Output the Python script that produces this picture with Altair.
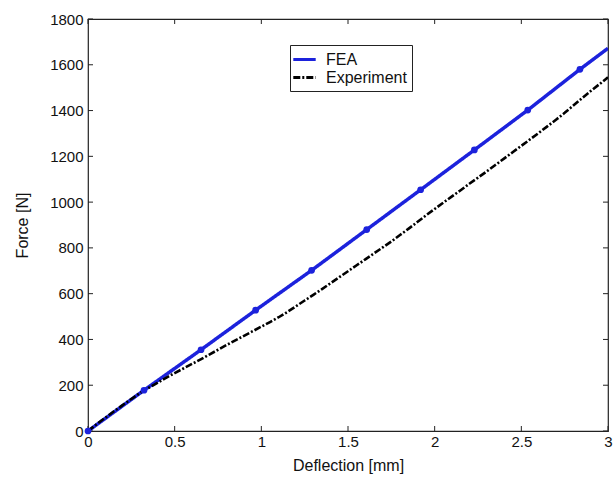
import altair as alt
import pandas as pd

# FEA markers (deflection mm, force N)
fea_x = [0, 0.323, 0.652, 0.967, 1.29, 1.608, 1.919, 2.229, 2.537, 2.838, 3.0]
fea_y = [0, 178, 355, 528, 702, 880, 1054, 1228, 1402, 1580, 1672]
fea_marker = [True, True, True, True, True, True, True, True, True, True, False]

# Experiment curve
exp_x = [0, 0.05, 0.1, 0.15, 0.2, 0.25, 0.3, 0.35, 0.4, 0.45, 0.5, 0.55, 0.6, 0.65,
         0.7, 0.75, 0.8, 0.85, 0.9, 0.95, 1.0, 1.05, 1.1, 1.15, 1.2, 1.25, 1.3, 1.35,
         1.4, 1.45, 1.5, 1.55, 1.6, 1.65, 1.7, 1.75, 1.8, 1.85, 1.9, 1.95, 2.0, 2.05,
         2.1, 2.15, 2.2, 2.25, 2.3, 2.35, 2.4, 2.45, 2.5, 2.55, 2.6, 2.65, 2.7, 2.75,
         2.8, 2.85, 2.9, 2.95, 3.0]
exp_y = [0, 30, 58, 86, 113, 140, 166, 188, 210, 232, 253, 273, 293, 313,
         334, 355, 376, 396, 416, 436, 456, 476, 497, 520, 545, 570, 595, 620,
         646, 672, 698, 724, 750, 776, 802, 828, 856, 884, 913, 942, 970, 998,
         1025, 1052, 1080, 1107, 1134, 1162, 1190, 1218, 1246, 1274, 1302, 1331, 1360, 1390,
         1422, 1454, 1485, 1515, 1545]

x_ticks = [0, 0.5, 1, 1.5, 2, 2.5, 3]
y_ticks = [0, 200, 400, 600, 800, 1000, 1200, 1400, 1600, 1800]

BLUE = "#1c22dc"
FONT = "Liberation Sans"

fea = pd.DataFrame({"x": fea_x, "y": fea_y, "series": "FEA", "marker": fea_marker})
exp = pd.DataFrame({"x": exp_x, "y": exp_y, "series": "Experiment"})
lines = pd.concat([fea[["x", "y", "series"]], exp], ignore_index=True)

xs = alt.Scale(domain=[0, 3], nice=False, zero=False)
ys = alt.Scale(domain=[0, 1800], nice=False, zero=False)

W, H = 520, 412

base_x = alt.X("x:Q", scale=xs, title="Deflection [mm]",
               axis=alt.Axis(values=x_ticks, tickSize=0, grid=False, domain=False, format="~g",
                             labelPadding=3, titlePadding=8, labelFlush=False))
base_y = alt.Y("y:Q", scale=ys, title="Force [N]",
               axis=alt.Axis(values=y_ticks, tickSize=0, grid=False, domain=False, format="d",
                             labelPadding=5, titlePadding=19, labelFlush=False))

leg = alt.Legend(title=None, orient="none", legendX=202, legendY=26,
                 fillColor="white", strokeColor="#222", padding=5,
                 labelFontSize=16, labelFont=FONT, labelColor="#111",
                 symbolType="M-1.4,0L1.4,0", symbolSize=256,
                 symbolStrokeWidth=3, rowPadding=-1, labelOffset=12, labelLimit=200)

line_layer = alt.Chart(lines).mark_line(clip=True).encode(
    x=base_x,
    y=base_y,
    color=alt.Color("series:N",
                    scale=alt.Scale(domain=["FEA", "Experiment"], range=[BLUE, "#000000"]),
                    legend=leg),
    strokeDash=alt.StrokeDash("series:N",
                              scale=alt.Scale(domain=["FEA", "Experiment"],
                                              range=[[1, 0], [7, 2, 2, 2]]),
                              legend=leg),
    strokeWidth=alt.condition(alt.datum.series == "FEA", alt.value(3.5), alt.value(2.6)),
    detail="series:N",
)

pts = alt.Chart(fea[fea["marker"]]).mark_circle(color=BLUE, opacity=1, size=45).encode(
    x=alt.X("x:Q", scale=xs), y=alt.Y("y:Q", scale=ys))

xt = pd.DataFrame({"x": x_ticks})
yt = pd.DataFrame({"y": y_ticks})
tick_len = 5
xb = alt.Chart(xt).mark_rule(color="#222", strokeWidth=1).encode(
    x=alt.X("x:Q", scale=xs), y=alt.value(H), y2=alt.value(H - tick_len))
xtop = alt.Chart(xt).mark_rule(color="#222", strokeWidth=1).encode(
    x=alt.X("x:Q", scale=xs), y=alt.value(0), y2=alt.value(tick_len))
yl = alt.Chart(yt).mark_rule(color="#222", strokeWidth=1).encode(
    y=alt.Y("y:Q", scale=ys), x=alt.value(0), x2=alt.value(tick_len))
yr = alt.Chart(yt).mark_rule(color="#222", strokeWidth=1).encode(
    y=alt.Y("y:Q", scale=ys), x=alt.value(W), x2=alt.value(W - tick_len))

chart = alt.layer(xb, xtop, yl, yr, line_layer, pts).properties(
    width=W, height=H,
    autosize=alt.AutoSizeParams(type="none"),
    padding={"left": 88, "top": 19, "right": 6, "bottom": 50},
    background="white",
).configure_view(
    stroke="#222", strokeWidth=1.2
).configure_axis(
    labelFont=FONT, labelFontSize=15, labelColor="#111",
    titleFont=FONT, titleFontSize=16, titleFontWeight="normal", titleColor="#111",
)

chart.save("out.html", embed_options={"renderer": "svg", "actions": False})
